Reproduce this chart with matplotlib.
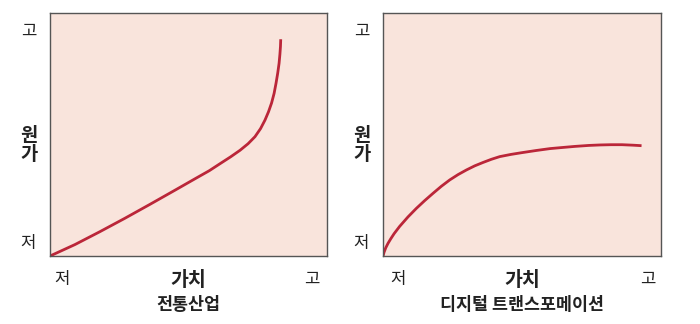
import matplotlib
matplotlib.use('Agg')
import matplotlib.pyplot as plt

plt.rcParams['font.family'] = ['Noto Sans CJK KR', 'DejaVu Sans']

# curve points (x = 가치, y = 원가, 0..1)
trad_x = [0.0, 0.09, 0.18, 0.27, 0.36, 0.45, 0.53, 0.575, 0.614, 0.652, 0.686, 0.715, 0.740,
          0.760, 0.776, 0.789, 0.800, 0.809, 0.816, 0.822, 0.827, 0.830, 0.832, 0.833]
trad_y = [0.0, 0.047, 0.100, 0.155, 0.212, 0.270, 0.322, 0.351, 0.380, 0.408, 0.435, 0.462, 0.491,
          0.524, 0.559, 0.594, 0.630, 0.669, 0.711, 0.752, 0.793, 0.830, 0.862, 0.892]

digi_x = [0.0, 0.004, 0.010, 0.018, 0.028, 0.040, 0.060, 0.090, 0.120, 0.150, 0.180, 0.210,
          0.240, 0.270, 0.300, 0.330, 0.360, 0.390, 0.420, 0.460, 0.498, 0.55, 0.601, 0.65,
          0.69, 0.74, 0.781, 0.82, 0.86, 0.90, 0.930]
digi_y = [0.0, 0.016, 0.034, 0.052, 0.071, 0.092, 0.122, 0.161, 0.196, 0.228, 0.258, 0.287,
          0.313, 0.335, 0.354, 0.371, 0.385, 0.398, 0.409, 0.418, 0.425, 0.434, 0.442, 0.447,
          0.451, 0.455, 0.457, 0.458, 0.458, 0.456, 0.454]

tick_labels = ['저', '고']
panels = [
    (trad_x, trad_y, '전통산업', [0.043, 0.946]),
    (digi_x, digi_y, '디지털 트랜스포메이션', [0.054, 0.953]),
]

fig = plt.figure(figsize=(7.0, 3.24), dpi=100)
ax_pos = [[50 / 700, 1 - 256 / 324, 277 / 700, 243 / 324],
          [383 / 700, 1 - 256 / 324, 278 / 700, 243 / 324]]

for pos, (xs, ys, name, xt) in zip(ax_pos, panels):
    ax = fig.add_axes(pos)
    ax.set_facecolor('#f9e4dc')
    ax.plot(xs, ys, color='#bb2639', lw=2.0, solid_capstyle='butt', solid_joinstyle='round')
    ax.set_xlim(0, 1)
    ax.set_ylim(0, 1)
    for s in ax.spines.values():
        s.set_color('#555555')
        s.set_linewidth(1.0)
    ax.set_xticks(xt)
    ax.set_xticklabels(tick_labels, fontsize=12, color='#222222')
    ax.set_yticks([0.058, 0.934])
    ax.set_yticklabels(tick_labels, fontsize=12, color='#222222')
    ax.tick_params(axis='x', length=0, pad=11)
    ax.tick_params(axis='y', length=0, pad=10)
    ax.text(0.5, -0.06, '가치', transform=ax.transAxes, ha='center', va='top',
            fontsize=14, fontweight='bold', color='#222222')
    ax.text(0.5, -0.165, name, transform=ax.transAxes, ha='center', va='top',
            fontsize=12.5, fontweight='bold', color='#222222')
    ax.text(-0.075, 0.457, '원\n가', transform=ax.transAxes, ha='center', va='center',
            fontsize=13.5, fontweight='bold', color='#222222', linespacing=1.0)

fig.savefig('out.png', dpi=100, facecolor='white')
